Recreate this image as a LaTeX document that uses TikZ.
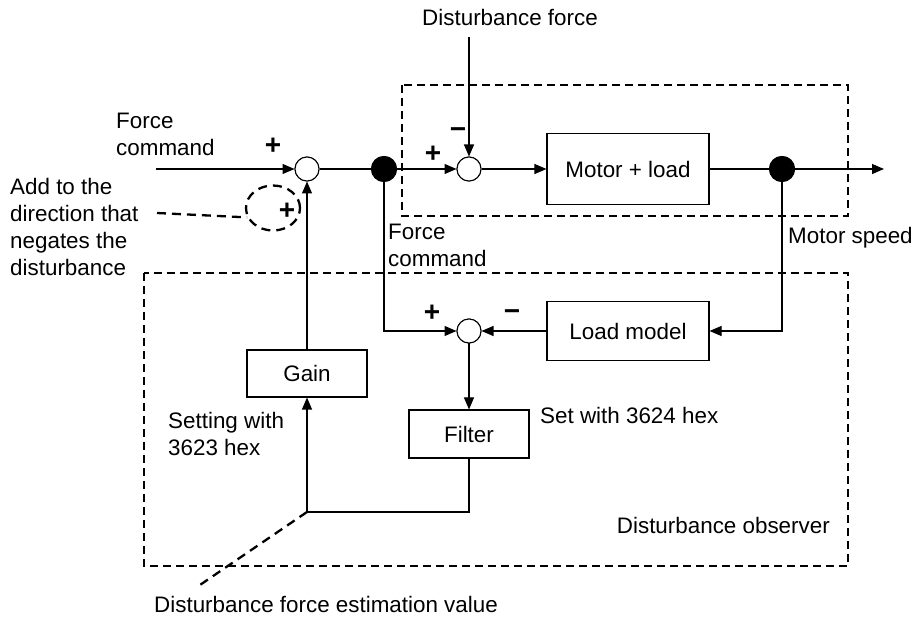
\documentclass[tikz,border=0pt]{standalone}
\usepackage{fontspec}
\setmainfont{Liberation Sans}
\usetikzlibrary{arrows.meta,shapes.geometric}
\tikzset{
  blk/.style={draw,line width=1.1pt,inner sep=0pt},
  sumc/.style={draw,circle,line width=1pt,minimum size=24pt,inner sep=0pt,fill=white},
  dotc/.style={circle,fill=black,minimum size=26pt,inner sep=0pt},
  sig/.style={line width=1.1pt,-{Triangle[length=12pt,width=10pt]}},
  wire/.style={line width=1.1pt},
  dbox/.style={line width=1.8pt,dash pattern=on 8pt off 5pt},
  lead/.style={line width=2.3pt,dash pattern=on 9pt off 6pt},
  lbl/.style={align=left,inner sep=0pt},
  sgn/.style={font=\fontsize{28}{28}\selectfont\bfseries,inner sep=0pt}
}
\begin{document}
\begin{tikzpicture}[x=1pt,y=-1pt,font=\fontsize{22.4}{27}\selectfont]
  \useasboundingbox (0,0) rectangle (922,620);
  % forward path
  \coordinate (in) at (156,169);
  \node[sumc] (s1) at (307,169) {};
  \node[dotc] (d1) at (384,169) {};
  \node[sumc] (s2) at (469,169) {};
  \node[blk,minimum width=162pt,minimum height=71pt] (motor) at (628,169) {Motor + load};
  \node[dotc] (d2) at (782,169) {};
  \coordinate (out) at (884,169);
  \coordinate (dist) at (469,37);
  \node (disttxt) at (510,17) {Disturbance force};
  % observer
  \node[sumc] (s3) at (469,331) {};
  \node[blk,minimum width=162pt,minimum height=59pt] (load) at (628,331) {Load model};
  \node[blk,minimum width=120pt,minimum height=48pt] (filter) at (469,434) {Filter};
  \node[blk,minimum width=120pt,minimum height=47pt] (gain) at (307,373.5) {Gain};
  \coordinate (est) at (307,512);
  % boxes
  \draw[dbox] (402,85) rectangle (848,216);
  \draw[dbox] (144,273) rectangle (848,566);
  % wires
  \draw[sig] (in) -- (s1);
  \draw[wire] (s1) -- (d1);
  \draw[sig] (d1) -- (s2);
  \draw[sig] (dist) -- (s2);
  \draw[sig] (s2) -- (motor);
  \draw[wire] (motor) -- (d2);
  \draw[sig] (d2) -- (out);
  \draw[sig] (d1) |- (s3);
  \draw[sig] (d2) |- (load);
  \draw[sig] (load) -- (s3);
  \draw[sig] (s3) -- (filter);
  \draw[sig] (filter) |- (est) -- (gain);
  \draw[sig] (gain) -- (s1);
  \node[sumc] at (s1) {};
  \node[sumc] at (s2) {};
  \node[sumc] at (s3) {};
  \node[dotc] at (d1) {};
  \node[dotc] at (d2) {};
  % signs
  \node[sgn] (p1) at (273,146) {+};
  \node[sgn] (p2) at (433,154) {+};
  \node[sgn] (m2) at (458,133) {−};
  \node[sgn] (p3) at (432,313) {+};
  \node[sgn] (m3) at (512,315) {−};
  % labels
  \node[lbl,anchor=west] (fcmd) at (116,134) {Force\\command};
  \node[lbl,anchor=west] (fcmd2) at (388,245) {Force\\command};
  \node[lbl,anchor=west] (spd) at (788,238) {Motor speed};
  \node[lbl,anchor=west] (flt) at (540,415) {Set with 3624 hex};
  \node[lbl,anchor=west] (gset) at (168,433.5) {Setting with\\3623 hex};
  \node[lbl,anchor=east] (obs) at (830,525) {Disturbance observer};
  \node[lbl,anchor=west] (addtxt) at (10,227) {Add to the\\direction that\\negates the\\disturbance};
  \node[lbl,anchor=west] (esttxt) at (154,604) {Disturbance force estimation value};
  % dashed markers
  \node[draw,lead,ellipse,minimum width=54pt,minimum height=45pt,inner sep=0pt] (mark) at (273,208) {};
  \node[sgn] (pm) at (287,211) {+};
  \coordinate (addend) at (157,213);
  \draw[lead] (addend) -- (mark.200);
  \coordinate (estend) at (197,587);
  \draw[lead] (est) -- (estend);
\end{tikzpicture}
\end{document}
